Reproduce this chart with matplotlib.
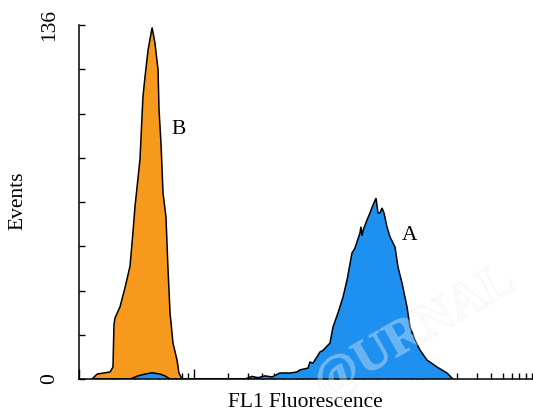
import numpy as np
import matplotlib
matplotlib.use("Agg")
import matplotlib.pyplot as plt
from matplotlib.ticker import LogLocator, FixedLocator, NullFormatter
import matplotlib.patheffects as pe

plt.rcParams['font.family'] = ['Liberation Serif', 'DejaVu Serif']

# histogram outlines (FL1 intensity, events)
fl1_b = [1.30, 1.44, 1.87, 1.98, 2.02, 2.06, 2.28, 2.52, 2.79, 2.96, 3.08, 3.41, 3.55,
         3.62, 3.77, 4.01, 4.35, 4.61, 4.90, 5.00, 5.20, 5.42, 5.75, 5.98, 6.24, 6.62,
         7.18, 7.46, 7.94]
events_b = [0, 1.9, 2.7, 4.6, 20.8, 23.4, 27.7, 35, 43.4, 56.4, 66, 84.5, 100.9,
            108.5, 116, 126.4, 135, 129, 118.8, 103.4, 90.7, 71.5, 62.2, 43, 25.4, 13.8,
            7.3, 2.3, 0]

fl1_a = [2.79, 3.27, 3.77, 4.35, 5.10, 5.63, 6.24,
         28.2, 32.4, 36.6, 42.1, 48.5, 56.9, 69.7, 80.1, 85.1, 100, 104, 110.6, 127.4,
         135.2, 155.6, 165.3, 182.8, 202.2, 219.2, 242.3, 257.2, 284.4, 290.0, 296.3,
         302.2, 327.5, 347.7, 369.6, 392.6, 408.6, 425.4, 442.6, 461.2, 489.8, 520.0,
         575.4, 611.0, 662.2, 732.3, 778.0, 859.8, 951.1, 1094, 1339, 1637, 1845]
events_a = [0, 1.2, 1.9, 2.4, 1.9, 1.2, 0,
            0, 1.0, 0.5, 1.2, 0.8, 2.3, 2.3, 2.7, 3.5, 4.2, 6.5, 6.1, 10.4,
            11.0, 13.8, 20.0, 25.4, 31.5, 38.0, 48.4, 50.3, 56.1, 58.5, 55.0,
            57.0, 61.1, 63.8, 66.8, 69.5, 63.8, 63.8, 65.7, 63.8, 58.4, 54.6,
            50.7, 43.0, 36.9, 27.7, 20.0, 15.0, 11.1, 7.3, 4.6, 2.3, 0]

ORANGE = "#F7991C"
BLUE = "#1E90F0"
FS = 15.5

fig = plt.figure(figsize=(5.33, 4.13), dpi=100)
ax = fig.add_axes([79 / 533, 34 / 413, 454 / 533, 354 / 413])

ax.fill(fl1_b, events_b, facecolor=ORANGE, edgecolor="black", linewidth=1.1, zorder=2)
ax.fill(fl1_a, events_a, facecolor=BLUE, edgecolor="black", linewidth=1.1, zorder=3)

ax.set_xscale("log")
ax.set_xlim(1, 10 ** (454 / 114.5))
ax.set_ylim(0, 136)

for side in ("top", "right"):
    ax.spines[side].set_visible(False)
for side in ("left", "bottom"):
    ax.spines[side].set_linewidth(1.1)

ax.yaxis.set_major_locator(FixedLocator(np.arange(0, 137, 17)))
ax.tick_params(axis="y", direction="in", length=4, width=1, labelleft=False)
ax.xaxis.set_major_locator(LogLocator(base=10, numticks=10))
ax.xaxis.set_minor_locator(LogLocator(base=10, subs=np.arange(2, 10), numticks=20))
ax.xaxis.set_major_formatter(NullFormatter())
ax.xaxis.set_minor_formatter(NullFormatter())
ax.tick_params(axis="x", which="major", direction="in", length=7, width=1)
ax.tick_params(axis="x", which="minor", direction="in", length=4, width=1)

ax.text(-0.064, 1.0, "136", transform=ax.transAxes, rotation=90,
        ha="center", va="center", fontsize=FS)
ax.text(-0.064, 0.0, "0", transform=ax.transAxes, rotation=90,
        ha="center", va="center", fontsize=FS)
ax.text(-0.134, 0.503, "Events", transform=ax.transAxes, rotation=90,
        ha="center", va="center", fontsize=FS)
ax.text(0.498, -0.065, "FL1 Fluorescence", transform=ax.transAxes,
        ha="center", va="center", fontsize=FS)

ax.text(6.4, 96, "B", fontsize=FS, ha="left", va="center")
ax.text(655, 55, "A", fontsize=FS, ha="left", va="center")

# faint watermark
wm = ax.text(0.74, 0.13, "@URNAL", transform=ax.transAxes, rotation=30,
             fontsize=36, fontweight="bold", color="white", alpha=0.18,
             ha="center", va="center", zorder=4)
wm.set_path_effects([pe.withStroke(linewidth=1.2, foreground="#d8d8d8")])

fig.savefig("out.png", dpi=100)
